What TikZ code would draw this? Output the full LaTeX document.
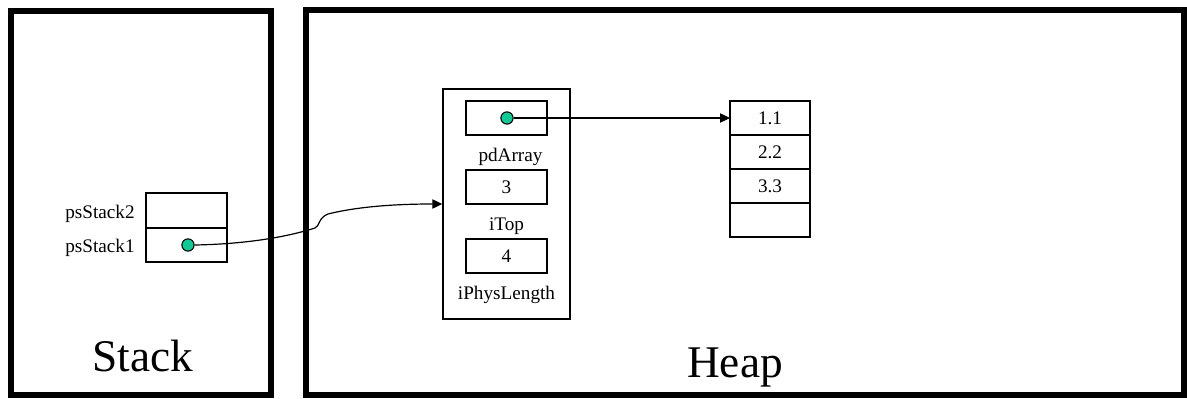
\documentclass[tikz,border=0pt]{standalone}
\usepackage{fontspec}
\setmainfont{Liberation Serif}
\usetikzlibrary{arrows.meta,positioning}
\definecolor{ptrgreen}{RGB}{20,200,150}

\begin{document}
\begin{tikzpicture}[x=0.75pt,y=-0.75pt,>={Triangle[length=7.5pt,width=7pt]},
                    font=\fontsize{14.4}{16}\selectfont,
                    region/.style={draw,line width=4.5pt,inner sep=0pt},
                    cell/.style={draw,line width=1.1pt,outer sep=0pt,inner sep=0pt,
                                 minimum width=60.75pt,minimum height=25.5pt},
                    ptr/.style={circle,draw,fill=ptrgreen,line width=0.8pt,
                                minimum size=9.2pt,inner sep=0pt},
                    title/.style={font=\fontsize{34}{40}\selectfont,anchor=base}]

\useasboundingbox (0,0) rectangle (1187,399);

% memory regions
\node[region,minimum width=195pt,minimum height=288pt] (stack) at (141,203) {};
\node[region,minimum width=658.5pt,minimum height=288.75pt] (heap) at (745,202.5) {};
\node[title] (stackname) at (143,371) {Stack};
\node[title] (heapname) at (735,377) {Heap};

% stack frame
\node[cell,minimum height=26.25pt] (ps2) at (186.5,210.5) {};
\node[cell] (ps1) [below=0pt of ps2] {};
\node (ps2name) [left=5pt of ps2,yshift=-2.5pt] {psStack2};
\node (ps1name) [left=5pt of ps1,yshift=-2pt] {psStack1};
\node[ptr] (p1) at (188,245) {};

% the stack object
\node[draw,line width=1.1pt,minimum width=95.25pt,minimum height=172.5pt,
      inner sep=0pt] (obj) at (506.5,204) {};
\node[cell] (arr) at (506.5,118) {};
\node (arrname) [below=6.5pt of arr,xshift=3pt] {pdArray};
\node[cell] (top) at (506.5,187) {3};
\node (topname) [below=7pt of top] {iTop};
\node[cell] (len) at (506.5,256) {4};
\node (lenname) [below=6pt of len] {iPhysLength};
\node[ptr] (p2) at (507,118) {};

% the array
\node[cell,minimum width=60pt] (a1) at (770,118) {1.1};
\node[cell,minimum width=60pt] (a2) [below=0pt of a1] {2.2};
\node[cell,minimum width=60pt] (a3) [below=0pt of a2] {3.3};
\node[cell,minimum width=60pt] (a4) [below=0pt of a3] {};

\draw[->,line width=0.9pt] (p1.east) .. controls (250,244) and (290,236) .. (315,228)
    .. controls (320,226) and (318,218) .. (328,214)
    .. controls (360,206) and (400,204) .. (obj.west);
\draw[->,line width=0.9pt] (p2) -- (a1.west);
\end{tikzpicture}
\end{document}
